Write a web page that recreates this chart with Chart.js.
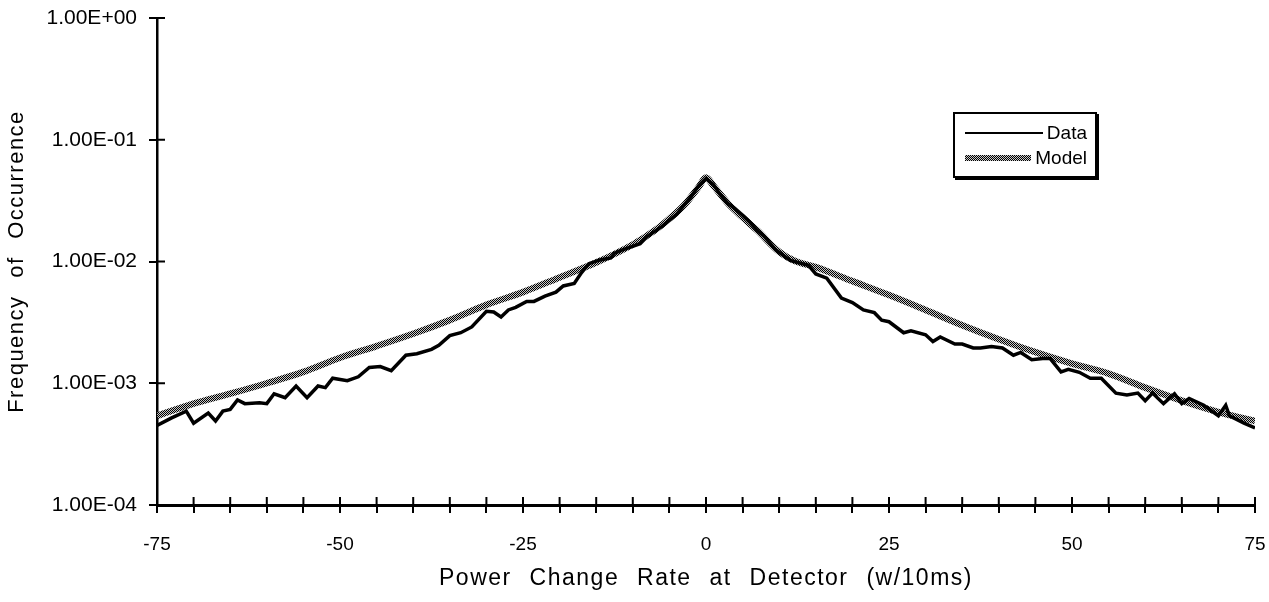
<!DOCTYPE html>
<html>
<head>
<meta charset="utf-8">
<title>Power Change Rate at Detector</title>
<script src="https://cdn.jsdelivr.net/npm/chart.js@4/dist/chart.umd.min.js"></script>
<style>
  html, body { margin: 0; padding: 0; background: #fff; }
  #wrap { position: relative; width: 1269px; height: 602px; }
  #legend {
    position: absolute; left: 953px; top: 112px; width: 144px; height: 66px;
    box-sizing: border-box; border: 2px solid #000; box-shadow: 2px 2px 0 #000;
    background: #fff; padding: 6px 8px 0 10px;
    font-family: "Liberation Sans", Arial, sans-serif; font-size: 19px; color: #000;
  }
  .row { display: flex; align-items: center; height: 25px; }
  .swatch { flex: 1; margin-right: 4px; }
  .row span { white-space: nowrap; }
</style>
</head>
<body>
<div id="wrap">
  <canvas id="chart" width="1269" height="602"></canvas>
  <div id="legend"></div>
</div>
<script>
// measured curve (x in w/10ms, y = frequency of occurrence)
const dataX = [-75, -73, -71, -70, -68, -67, -66, -65, -64, -63, -61, -60, -59, -57.5, -56, -54.5, -53, -52, -51, -49,
  -47.5, -46, -44.5, -43, -41, -39.5, -37.5, -36.5, -35, -33.5, -32, -30, -29, -28, -27, -26, -24.5, -23.5, -22, -20.5,
  -19.5, -18, -17, -16, -14.5, -13, -12.5, -11.5, -9, -8, -6, -4, -3, -2, -1, 0, 1, 2, 3, 4,
  5, 6, 7, 8, 9.5, 11.5, 14, 15, 16.5, 18.5, 20, 21.5, 23, 24, 25, 27, 28, 30, 31, 32,
  34, 35, 36.5, 37.5, 39, 40.5, 42, 43, 44.5, 46, 47, 48.5, 49.5, 51, 52.5, 54, 56, 57.5, 59, 60,
  61, 62.5, 64, 65, 66, 68, 70, 71, 71.5, 73.5, 75];
const dataY = [4.5e-4, 5.2e-4, 5.9e-4, 4.7e-4, 5.7e-4, 4.9e-4, 5.9e-4, 6.1e-4, 7.3e-4, 6.8e-4, 6.9e-4, 6.8e-4, 8.2e-4, 7.6e-4, 9.5e-4, 7.6e-4, 9.5e-4, 9.2e-4, 1.1e-3, 1.05e-3,
  1.13e-3, 1.35e-3, 1.37e-3, 1.27e-3, 1.7e-3, 1.75e-3, 1.9e-3, 2.05e-3, 2.46e-3, 2.6e-3, 2.9e-3, 3.9e-3, 3.85e-3, 3.5e-3, 4.0e-3, 4.2e-3, 4.7e-3, 4.7e-3, 5.2e-3, 5.6e-3,
  6.3e-3, 6.6e-3, 8.1e-3, 9.6e-3, 1.03e-2, 1.07e-2, 1.17e-2, 1.24e-2, 1.4e-2, 1.61e-2, 1.94e-2, 2.44e-2, 2.9e-2, 3.43e-2, 4.2e-2, 4.8e-2, 4.3e-2, 3.5e-2, 3.0e-2, 2.7e-2,
  2.4e-2, 2.1e-2, 1.8e-2, 1.6e-2, 1.25e-2, 1.02e-2, 9.3e-3, 7.9e-3, 7.3e-3, 5.0e-3, 4.6e-3, 4.0e-3, 3.8e-3, 3.3e-3, 3.2e-3, 2.6e-3, 2.7e-3, 2.5e-3, 2.2e-3, 2.4e-3,
  2.1e-3, 2.1e-3, 1.95e-3, 1.95e-3, 2.0e-3, 1.95e-3, 1.7e-3, 1.79e-3, 1.56e-3, 1.6e-3, 1.6e-3, 1.24e-3, 1.3e-3, 1.23e-3, 1.1e-3, 1.1e-3, 8.3e-4, 8.0e-4, 8.3e-4, 7.2e-4,
  8.3e-4, 6.8e-4, 8.2e-4, 6.8e-4, 7.5e-4, 6.6e-4, 5.4e-4, 6.6e-4, 5.4e-4, 4.7e-4, 4.3e-4];

// model curve
const modelX = [-75, -70, -65, -60, -55, -50, -45, -40, -35, -30, -25, -20, -15, -10, -7, -5, -3, -1, 0,
  1, 3, 5, 7, 10, 12, 15, 20, 25, 30, 35, 40, 45, 50, 55, 60, 65, 70, 75];
const modelY = [5.4e-4, 6.8e-4, 8.2e-4, 1.0e-3, 1.24e-3, 1.62e-3, 2.02e-3, 2.55e-3, 3.3e-3, 4.4e-3, 5.6e-3, 7.4e-3, 9.8e-3, 1.38e-2, 1.8e-2, 2.25e-2, 2.9e-2, 4.1e-2, 4.9e-2,
  4.2e-2, 3.0e-2, 2.3e-2, 1.8e-2, 1.2e-2, 1.02e-2, 9.0e-3, 6.9e-3, 5.3e-3, 4.0e-3, 3.0e-3, 2.3e-3, 1.8e-3, 1.45e-3, 1.2e-3, 9.2e-4, 7.2e-4, 5.8e-4, 4.9e-4];

const yTickValues = [1e-4, 1e-3, 1e-2, 1e-1, 1];
const xTickStep = 5;
const xLabelStep = 25;

const FONT = '"Liberation Sans", Arial, sans-serif';

// checkered fill for the model line
function checker() {
  const c = document.createElement("canvas");
  c.width = 2; c.height = 2;
  const g = c.getContext("2d");
  g.fillStyle = "#c8c8c8"; g.fillRect(0, 0, 2, 2);
  g.fillStyle = "#000"; g.fillRect(0, 0, 1, 1); g.fillRect(1, 1, 1, 1);
  return g.createPattern(c, "repeat");
}

function sci(v) {
  const parts = v.toExponential(2).split("e");
  const n = Number(parts[1]);
  return parts[0] + "E" + (n < 0 ? "-" : "+") + String(Math.abs(n)).padStart(2, "0");
}

// the axis titles in the original are set with wide spacing
function spaceTitle(s) {
  if (s._spaced) return;
  const orig = s.drawTitle;
  s.drawTitle = function () {
    const c = this.ctx;
    c.save();
    c.letterSpacing = "1.5px";
    c.wordSpacing = "10px";
    orig.call(this);
    c.restore();
  };
  s._spaced = true;
}

// tick marks that cross the axis line
const innerTicks = {
  id: "innerTicks",
  afterDraw(chart) {
    const { ctx, chartArea, scales } = chart;
    ctx.save();
    ctx.strokeStyle = "#000";
    ctx.lineWidth = 2;
    ctx.beginPath();
    scales.x.ticks.forEach(t => {
      const px = scales.x.getPixelForValue(t.value);
      ctx.moveTo(px, chartArea.bottom);
      ctx.lineTo(px, chartArea.bottom - 8);
    });
    scales.y.ticks.forEach(t => {
      const py = scales.y.getPixelForValue(t.value);
      ctx.moveTo(chartArea.left, py);
      ctx.lineTo(chartArea.left + 8, py);
    });
    ctx.stroke();
    ctx.restore();
  }
};

const ctx = document.getElementById("chart").getContext("2d");
const chart = new Chart(ctx, {
  type: "line",
  data: {
    datasets: [
      {
        label: "Data",
        data: dataX.map((x, i) => ({ x: x, y: dataY[i] })),
        borderColor: "#000",
        borderWidth: 3.5,
        pointRadius: 0,
        tension: 0,
      },
      {
        label: "Model",
        data: modelX.map((x, i) => ({ x: x, y: modelY[i] })),
        borderColor: checker(),
        borderWidth: 6.5,
        pointRadius: 0,
        cubicInterpolationMode: "monotone",
      },
    ],
  },
  options: {
    responsive: false,
    animation: false,
    layout: { padding: { left: 0, right: 14, top: 18, bottom: 0 } },
    plugins: {
      legend: { display: false },
      tooltip: { enabled: false },
    },
    scales: {
      x: {
        type: "linear",
        min: -75,
        max: 75,
        afterFit: s => {
          s.height = 97;
          s.paddingLeft = 0;
          s.paddingRight = 0;
          spaceTitle(s);
        },
        ticks: {
          stepSize: xTickStep,
          autoSkip: false,
          maxRotation: 0,
          padding: 20,
          color: "#000",
          font: { family: FONT, size: 19 },
          callback: v => (v % xLabelStep === 0 ? String(v) : ""),
        },
        grid: { drawOnChartArea: false, drawTicks: true, tickLength: 8, color: "#000", lineWidth: 2 },
        border: { color: "#000", width: 3 },
        title: {
          display: true,
          text: "Power Change Rate at Detector (w/10ms)",
          color: "#000",
          font: { family: FONT, size: 23 },
          padding: { top: 4, bottom: 10 },
        },
      },
      y: {
        type: "logarithmic",
        min: 1e-4,
        max: 1,
        afterFit: s => {
          s.width = 157;
          s.paddingTop = 0;
          s.paddingBottom = 0;
          spaceTitle(s);
        },
        afterBuildTicks: s => { s.ticks = yTickValues.map(v => ({ value: v })); },
        ticks: {
          padding: 12,
          color: "#000",
          font: { family: FONT, size: 21 },
          callback: v => sci(v),
        },
        grid: { drawOnChartArea: false, drawTicks: true, tickLength: 8, color: "#000", lineWidth: 2 },
        border: { color: "#000", width: 2.5 },
        title: {
          display: true,
          text: "Frequency of Occurrence",
          color: "#000",
          font: { family: FONT, size: 22 },
          padding: { top: 4, bottom: 4 },
        },
      },
    },
  },
  plugins: [innerTicks],
});

// legend box
const legend = document.getElementById("legend");
chart.data.datasets.forEach((ds, i) => {
  const row = document.createElement("div");
  row.className = "row";
  const sw = document.createElement("div");
  sw.className = "swatch";
  if (i === 0) {
    sw.style.height = "2px";
    sw.style.background = "#000";
  } else {
    sw.style.height = "6px";
    sw.style.background = "repeating-conic-gradient(#000 0 25%, #c8c8c8 0 50%) 0 0 / 2px 2px";
  }
  const label = document.createElement("span");
  label.textContent = ds.label;
  row.appendChild(sw);
  row.appendChild(label);
  legend.appendChild(row);
});
</script>
</body>
</html>
